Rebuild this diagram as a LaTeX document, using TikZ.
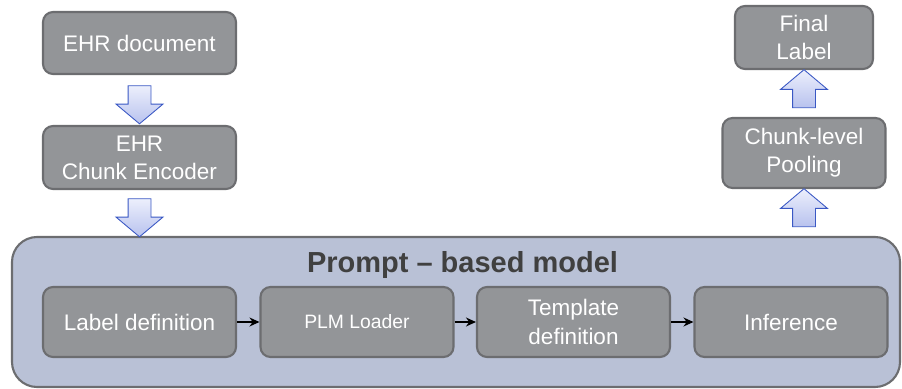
\documentclass[tikz,border=0pt]{standalone}
\usepackage{fontspec}
\setmainfont{Liberation Sans}
\definecolor{boxgray}{RGB}{147, 149, 152}
\definecolor{edgegray}{RGB}{108, 109, 112}
\definecolor{modelblue}{RGB}{185, 193, 214}
\definecolor{arrowblue}{RGB}{58, 88, 196}
\definecolor{arrowtop}{RGB}{236, 239, 252}
\definecolor{arrowbot}{RGB}{184, 194, 238}
\definecolor{titlegray}{RGB}{64, 64, 64}
\usetikzlibrary{shapes.arrows, arrows.meta, positioning, calc}

\begin{document}
\begin{tikzpicture}[
    stage/.style={draw=edgegray, line width=1.2pt, fill=boxgray, rounded corners=0.2cm,
      text=white, align=center, font=\fontsize{12.8}{16}\selectfont,
      minimum width=3.86cm, minimum height=1.4cm, inner sep=0pt},
    flowdown/.style={single arrow, shape border rotate=270, draw=arrowblue, line width=0.5pt,
      top color=arrowtop, bottom color=arrowbot, minimum height=0.76cm, inner sep=0.22cm,
      single arrow head extend=0.24cm, single arrow tip angle=100},
    flowup/.style={flowdown, shape border rotate=90}
  ]
  \useasboundingbox (0, 0) rectangle (18.04, -7.76);

  % Prompt-based model frame
  \node[draw=edgegray, line width=1.2pt, fill=modelblue, rounded corners=0.5cm,
    minimum width=17.76cm, minimum height=3cm] (model) at (9.12, -6.24) {};
  \node[font=\fontsize{16.5}{20}\selectfont\bfseries, text=titlegray] (title) at (9.25, -5.3) {Prompt -- based model};

  \node[stage] (labdef) at (2.79, -6.44) {Label definition};
  \node[stage, font=\fontsize{11}{14}\selectfont] (plm) at (7.14, -6.44) {PLM Loader};
  \node[stage] (tmpl) at (11.47, -6.44) {Template\\definition};
  \node[stage] (infer) at (15.82, -6.44) {Inference};

  \draw[-{Stealth[length=2mm, width=1.8mm]}, line width=0.7pt] (labdef) -- (plm);
  \draw[-{Stealth[length=2mm, width=1.8mm]}, line width=0.7pt] (plm) -- (tmpl);
  \draw[-{Stealth[length=2mm, width=1.8mm]}, line width=0.7pt] (tmpl) -- (infer);

  % EHR input side
  \node[stage, minimum height=1.24cm] (ehr) at (2.79, -0.86) {EHR document};
  \node[stage, minimum height=1.26cm] (enc) at (2.79, -3.15) {EHR\\Chunk Encoder};
  \node[flowdown] (down1) at ($(ehr.south)!0.5!(enc.north)$) {};
  \node[flowdown] (down2) at ($(enc.south)!0.5!(enc.south |- model.north)$) {};

  % output side
  \node[stage, minimum width=2.76cm, minimum height=1.26cm] (final) at (16.08, -0.75) {Final\\Label};
  \node[stage, minimum width=3.26cm] (pool) at (16.08, -3.06) {Chunk-level\\Pooling};
  \node[flowup] (up1) at ($(pool.north)!0.5!(final.south)$) {};
  \node[flowup] (up2) at ($(pool.south)!0.5!(pool.south |- model.north)$) {};
\end{tikzpicture}
\end{document}
